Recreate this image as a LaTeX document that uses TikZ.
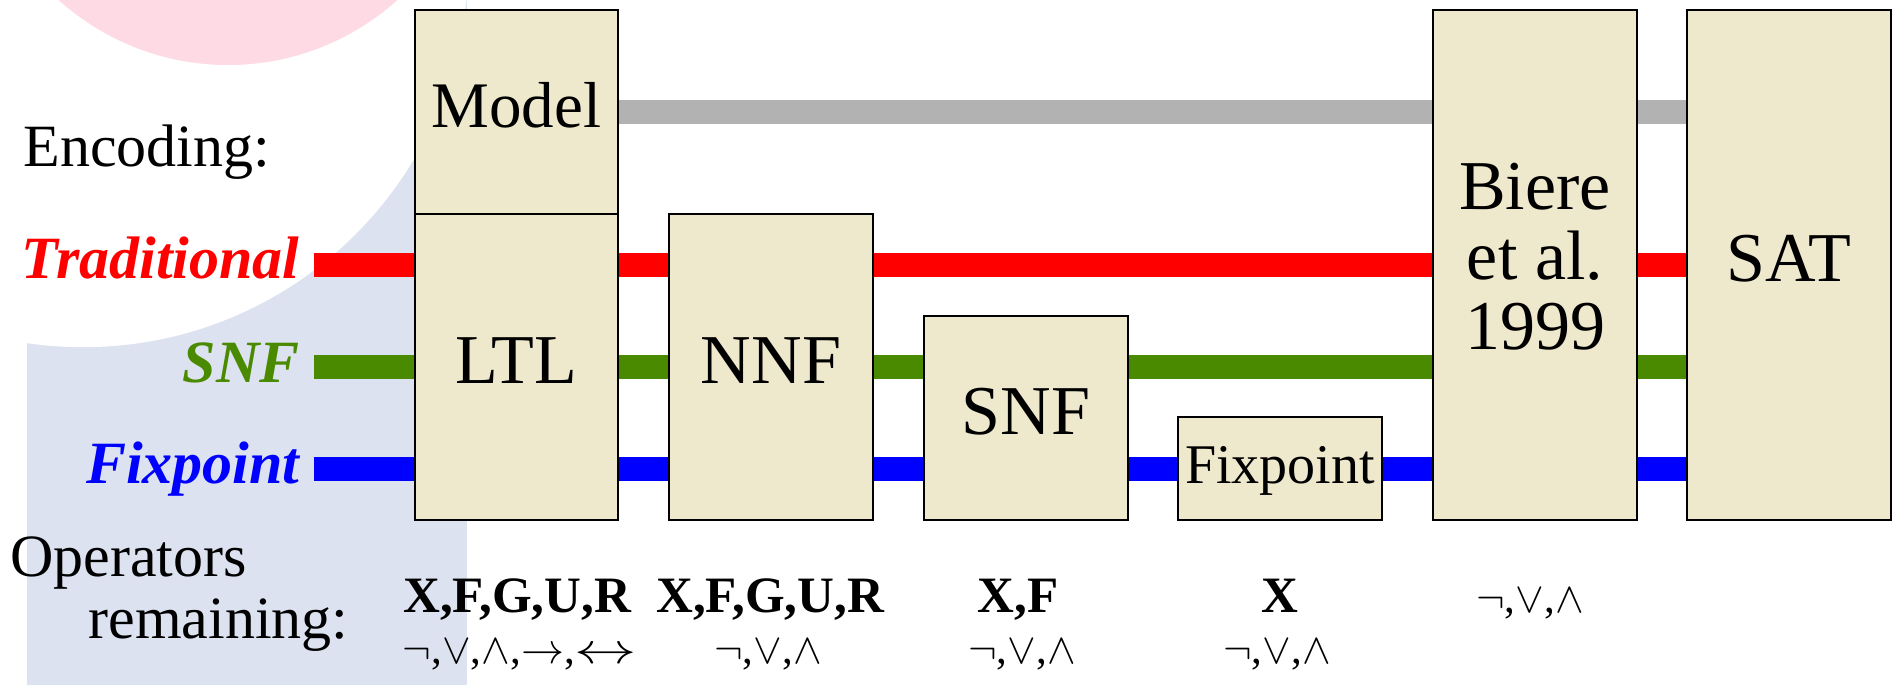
\RequirePackage{fix-cm}
\documentclass[tikz,border=0pt]{standalone}
\usepackage{fontspec}
\setmainfont{Liberation Serif}
\usepackage{graphicx}
\usetikzlibrary{fit}
\definecolor{boxfill}{RGB}{238,232,204}
\definecolor{pinkdeco}{RGB}{254,218,228}
\definecolor{bluedeco}{RGB}{220,226,240}
\definecolor{grayline}{RGB}{178,178,178}
\definecolor{greenline}{RGB}{74,138,0}
\newcommand\sNeg{\ensuremath{\neg}}
\newcommand\sOr{\ensuremath{\vee}}
\newcommand\sAnd{\ensuremath{\wedge}}
\newcommand\sImp{\ensuremath{\rightarrow}}
\newcommand\sIff{\scalebox{1.45}[1]{\ensuremath{\leftrightarrow}}}
\pgfdeclarelayer{deco}
\pgfdeclarelayer{wires}
\pgfsetlayers{deco,wires,main}
\begin{document}
\begin{tikzpicture}[x=0.5pt,y=-0.5pt,
  stagebox/.style={draw=black,line width=1.1pt,fill=boxfill,inner sep=0pt},
  wire/.style={line width=12.25pt},
  boxtext/.style={inner sep=0pt,anchor=base,font=\fontsize{35pt}{35pt}\selectfont},
  sidelabel/.style={inner sep=0pt,font=\fontsize{30pt}{36pt}\selectfont},
  enclabel/.style={inner sep=0pt,anchor=base east,font=\fontsize{30pt}{36pt}\selectfont\bfseries\itshape},
  opbold/.style={inner sep=0pt,anchor=base,font=\fontsize{25.5pt}{30pt}\selectfont\bfseries},
  opsym/.style={inner sep=0pt,anchor=base,font=\fontsize{21.5pt}{24pt}\selectfont},
]
\useasboundingbox (0,0) rectangle (1896,685);

% background decoration
\begin{pgfonlayer}{deco}
  \begin{scope}
    \clip (0,0) rectangle (1896,685);
    \fill[white] (0,0) rectangle (1896,685);
    \fill[bluedeco] (27,0) rectangle (467,685);
    \fill[white] (83,-38) circle[radius=192.6pt];
    \fill[pinkdeco] (228,-188) circle[radius=126.5pt];
  \end{scope}
\end{pgfonlayer}

% stage boxes
\node[stagebox,fit={(415,10)(618,214)}] (model) {};
\node[stagebox,fit={(415,214)(618,520)}] (ltl) {};
\node[stagebox,fit={(669,214)(873,520)}] (nnf) {};
\node[stagebox,fit={(924,316)(1128,520)}] (snf) {};
\node[stagebox,fit={(1178,417)(1382,520)}] (fix) {};
\node[stagebox,fit={(1433,10)(1637,520)}] (biere) {};
\node[stagebox,fit={(1687,10)(1891,520)}] (sat) {};

% box texts
\node[boxtext,font=\fontsize{32.5pt}{36pt}\selectfont] (modeltext) at (516.5,127.6) {Model};
\node[boxtext] (ltltext) at (516.5,383) {LTL};
\node[boxtext] (nnftext) at (771,383) {NNF};
\node[boxtext] (snftext) at (1026,434) {SNF};
\node[boxtext,font=\fontsize{28pt}{32pt}\selectfont] (fixtext) at (1280,483) {Fixpoint};
\node[boxtext,anchor=center,align=center] (bieretext) at (1535,257) {Biere\\et al.\\1999};
\node[boxtext] (sattext) at (1789,281) {SAT};

% left labels
\node[sidelabel,anchor=base west] (enc) at (23,166) {Encoding:};
\node[enclabel,text=red] (trad) at (300,278) {Traditional};
\node[enclabel,text=greenline] (snfl) at (300,382) {SNF};
\node[enclabel,text=blue] (fixl) at (300,483) {Fixpoint};
\node[sidelabel,anchor=base west] (ops) at (10,576) {Operators};
\node[sidelabel,anchor=base west] (rem) at (88,638) {remaining:};

% operators remaining
\node[opbold] (opltl) at (517,612) {X,F,G,U,R};
\node[opbold] (opnnf) at (770,612) {X,F,G,U,R};
\node[opbold] (opsnf) at (1018,612) {X,F};
\node[opbold] (opfix) at (1280,612) {X};
\node[opsym] (symbiere) at (1530,612) {\sNeg,\sOr,\sAnd};
\node[opsym] (symltl) at (520,663) {\sNeg,\sOr,\sAnd,\sImp,\sIff};
\node[opsym] (symnnf) at (768,663) {\sNeg,\sOr,\sAnd};
\node[opsym] (symsnf) at (1022,663) {\sNeg,\sOr,\sAnd};
\node[opsym] (symfix) at (1277,663) {\sNeg,\sOr,\sAnd};

% encoding lines
\coordinate (graystart) at (618,112);
\coordinate (tradstart) at (314,265);
\coordinate (snfstart) at (314,367);
\coordinate (fixstart) at (314,469);
\begin{pgfonlayer}{wires}
  \draw[wire,grayline] (model.east |- graystart) -- (sat.west |- graystart);
  \draw[wire,red] (tradstart) -- (sat.west |- tradstart);
  \draw[wire,greenline] (snfstart) -- (sat.west |- snfstart);
  \draw[wire,blue] (fixstart) -- (sat.west |- fixstart);
\end{pgfonlayer}
\end{tikzpicture}
\end{document}
